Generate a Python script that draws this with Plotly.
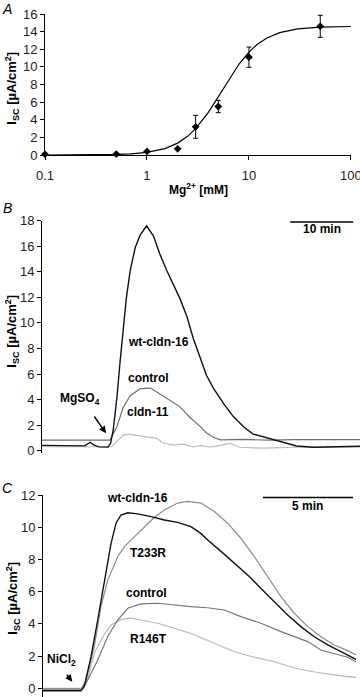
import plotly.graph_objects as go

W, H = 360, 697
FONT = "Liberation Sans, Arial, sans-serif"

# ---------------- Panel A data ----------------
mg_conc = [0.1, 0.5, 1, 2, 3, 5, 10, 50]
isc_mean = [0.08, 0.1, 0.4, 0.7, 3.2, 5.5, 11.1, 14.6]
isc_err = [0, 0, 0, 0, 1.3, 0.7, 1.15, 1.25]
fit_x = [0.1, 0.3, 0.5, 0.7, 1, 1.5, 2, 2.5, 3, 4, 5, 6, 7, 8, 10, 12, 15, 20, 30, 50, 100]
fit_y = [0.0, 0.02, 0.06, 0.13, 0.30, 0.73, 1.35, 2.12, 2.99, 4.84, 6.6, 8.11, 9.34,
         10.32, 11.68, 12.54, 13.28, 13.89, 14.31, 14.51, 14.58]
a_xticks = [0.1, 1, 10, 100]
a_xticklabels = ["0.1", "1", "10", "100"]

# ---------------- Panel B data (time in min) ----------------
b_wt_t = [0, 5, 6.8, 7.3, 7.7, 8.2, 9.0, 10.5, 10.9, 11.3, 11.9, 12.4, 12.9, 13.4, 14.0,
          14.8, 15.6, 16.6, 17.7, 18.7, 19.8, 20.8, 21.9, 23.0, 24.0, 25.1, 26.1, 27.2,
          28.8, 30.4, 32.0, 33.5, 35.7, 37.8, 40.4, 43.1, 46, 50.5]
b_wt_v = [0.42, 0.40, 0.38, 0.55, 0.65, 0.45, 0.30, 0.28, 0.6, 1.6, 4.2, 7.0, 9.7, 12.0,
          14.1, 15.9, 16.9, 17.6, 16.8, 15.4, 14.1, 13.0, 11.9, 10.5, 8.8, 7.3, 5.9, 4.9,
          3.7, 2.65, 1.87, 1.3, 1.0, 0.7, 0.37, 0.27, 0.3, 0.35]
b_ctrl_t = [0, 10.8, 11.9, 12.9, 14.0, 15.6, 17.2, 18.7, 20.3, 21.9, 23.5, 25.1, 26.1,
            27.2, 28.3, 32, 36, 40, 45, 50.5]
b_ctrl_v = [0.83, 0.83, 1.9, 3.4, 4.3, 4.86, 4.9, 4.47, 3.95, 3.43, 2.6, 1.9, 1.4,
            1.05, 0.85, 0.88, 0.82, 0.86, 0.84, 0.86]
b_c11_t = [0, 11.06, 12.1, 12.9, 13.7, 15.0, 16.6, 18.2, 19.3, 20.8, 22.4, 24.0, 25.1,
           26.5, 27.2, 29.8, 31.4, 35.1, 40.4, 45, 50.5]
b_c11_v = [0.31, 0.31, 0.83, 1.22, 1.3, 1.2, 1.09, 0.97, 0.58, 0.44, 0.52, 0.3, 0.4,
           0.3, 0.32, 0.58, 0.27, 0.2, 0.27, 0.3, 0.3]

# ---------------- Panel C data (time in min) ----------------
c_wt_t = [0, 2.11, 2.29, 2.67, 3.04, 3.41, 3.78, 4.06, 4.33, 4.71, 5.26, 6.0, 6.74, 7.48,
          8.22, 8.78, 9.15, 9.89, 10.63, 11.37, 12.11, 12.85, 13.59, 14.33, 15.07, 15.82,
          16.56, 17.39]
c_wt_v = [-0.15, -0.15, 0.1, 1.96, 4.24, 6.7, 9.0, 10.25, 10.76, 10.9, 10.83, 10.66,
          10.45, 10.3, 10.04, 9.6, 9.2, 8.5, 7.76, 7.04, 6.2, 5.38, 4.55, 3.83, 3.2, 2.69,
          2.27, 1.8]
c_t233r_t = [0, 2.11, 2.39, 2.85, 3.22, 3.59, 4.15, 4.52, 5.07, 5.63, 6.18, 6.74, 7.48,
             8.04, 8.78, 9.52, 10.26, 11.0, 11.74, 12.48, 13.22, 13.96, 14.71, 15.44,
             16.18, 16.93, 17.39]
c_t233r_v = [-0.05, -0.05, 0.5, 2.6, 5.07, 6.7, 8.17, 8.8, 9.4, 10.0, 10.6, 11.07, 11.5,
             11.6, 11.5, 10.97, 10.25, 9.3, 8.17, 6.93, 5.69, 4.66, 3.83, 3.2, 2.69, 2.34,
             2.07]
c_ctrl_t = [0, 2.11, 2.48, 3.04, 3.59, 4.15, 4.71, 5.44, 6.37, 7.29, 8.22, 9.15, 10.07,
            11.0, 12.11, 13.22, 13.96, 14.71, 15.44, 16.18, 16.93, 17.39]
c_ctrl_v = [-0.05, -0.05, 0.5, 1.76, 3.2, 4.24, 4.97, 5.24, 5.28, 5.17, 5.07, 5.0, 4.86,
            4.45, 4.04, 3.52, 3.2, 2.9, 2.38, 2.17, 1.93, 1.65]
c_r146t_t = [0, 2.11, 2.39, 2.85, 3.32, 3.78, 4.33, 4.89, 5.44, 6.37, 7.29, 8.22, 9.52,
             10.63, 11.74, 12.85, 13.96, 15.07, 16.18, 17.39]
c_r146t_v = [0.0, 0.0, 0.2, 2.17, 3.2, 3.93, 4.28, 4.35, 4.24, 4.04, 3.73, 3.4, 2.8, 2.27,
             1.93, 1.65, 1.26, 1.01, 0.83, 0.66]

# scale bars (minutes)
b_bar_len = 10
c_bar_len = 5


def px(x, y):
    return x / W, 1 - y / H


fig = go.Figure()

# Panel A
fig.add_trace(go.Scatter(x=fit_x, y=fit_y, mode="lines", line=dict(color="black", width=1.2),
                         xaxis="x", yaxis="y", hoverinfo="skip", cliponaxis=False))
fig.add_trace(go.Scatter(x=mg_conc, y=isc_mean, mode="markers",
                         marker=dict(symbol="diamond", size=6, color="black"),
                         error_y=dict(type="data", array=isc_err, thickness=1, width=2.5, color="black"),
                         xaxis="x", yaxis="y", cliponaxis=False))

# Panel B
fig.add_trace(go.Scatter(x=b_ctrl_t, y=b_ctrl_v, mode="lines", line=dict(color="#6f6f6f", width=1.2),
                         xaxis="x2", yaxis="y2"))
fig.add_trace(go.Scatter(x=b_c11_t, y=b_c11_v, mode="lines", line=dict(color="#bcbcbc", width=1.2),
                         xaxis="x2", yaxis="y2"))
fig.add_trace(go.Scatter(x=b_wt_t, y=b_wt_v, mode="lines", line=dict(color="#111111", width=1.4),
                         xaxis="x2", yaxis="y2"))

# Panel C
fig.add_trace(go.Scatter(x=c_r146t_t, y=c_r146t_v, mode="lines", line=dict(color="#b8b8b8", width=1.2),
                         xaxis="x3", yaxis="y3"))
fig.add_trace(go.Scatter(x=c_ctrl_t, y=c_ctrl_v, mode="lines", line=dict(color="#777777", width=1.2),
                         xaxis="x3", yaxis="y3"))
fig.add_trace(go.Scatter(x=c_t233r_t, y=c_t233r_v, mode="lines", line=dict(color="#8c8c8c", width=1.2),
                         xaxis="x3", yaxis="y3"))
fig.add_trace(go.Scatter(x=c_wt_t, y=c_wt_v, mode="lines", line=dict(color="#111111", width=1.4),
                         xaxis="x3", yaxis="y3"))

tickfont = dict(family=FONT, size=13, color="#222")
yax_common = dict(showline=True, linecolor="black", linewidth=1, ticks="outside", ticklen=4,
                  tickcolor="black", showgrid=False, zeroline=False, tickfont=tickfont, dtick=2)
xhidden = dict(showline=False, showticklabels=False, ticks="", showgrid=False, zeroline=False)

fig.update_layout(
    width=W, height=H, margin=dict(l=0, r=0, t=0, b=0, autoexpand=False),
    paper_bgcolor="white", plot_bgcolor="white", showlegend=False,
    font=dict(family=FONT, color="black"),
    xaxis=dict(domain=[45 / W, 351 / W], type="log", range=[-1, 2.0005], tickvals=a_xticks,
               ticktext=a_xticklabels, showline=True, linecolor="black", ticks="outside",
               ticklen=4, tickcolor="black", showgrid=False, zeroline=False, tickfont=tickfont,
               ticklabeloverflow="allow", ticklabelstandoff=4, anchor="y"),
    yaxis=dict(domain=[1 - 155 / H, 1 - 14 / H], range=[0, 16], anchor="x", **yax_common),
    xaxis2=dict(domain=[42 / W, 1], range=[0, (360 - 42) / 6.3], anchor="y2", **xhidden),
    yaxis2=dict(domain=[1 - 453 / H, 1 - 220.7 / H], range=[-0.18, 18], anchor="x2", **yax_common),
    xaxis3=dict(domain=[43 / W, 1], range=[0, (360 - 43) / 18], anchor="y3", **xhidden),
    yaxis3=dict(domain=[0, 1 - 495 / H], range=[-0.54, 12], anchor="x3", **yax_common),
)

# scale bars
fig.add_shape(type="line", xref="x2", yref="y2", x0=39.4, x1=39.4 + b_bar_len, y0=17.9, y1=17.9,
              line=dict(color="black", width=1.5))
fig.add_shape(type="line", xref="x3", yref="y3", x0=12.22, x1=12.22 + c_bar_len, y0=11.84, y1=11.84,
              line=dict(color="black", width=1.5))

annotations = []


def label(x, y, text, size=12, bold=True, italic=False, angle=0):
    px_x, px_y = px(x, y)
    t = text
    if bold:
        t = "<b>" + t + "</b>"
    if italic:
        t = "<i>" + t + "</i>"
    annotations.append(dict(x=px_x, y=px_y, xref="paper", yref="paper", text=t, showarrow=False,
                            xanchor="center", yanchor="middle", textangle=angle,
                            font=dict(family=FONT, size=size, color="black")))


ytitle = "I<sub>SC</sub> [µA/cm<sup>2</sup>]"
label(7, 9, "A", size=14, bold=False, italic=True)
label(7, 208, "B", size=14, bold=False, italic=True)
label(7, 488, "C", size=14, bold=False, italic=True)
label(11.7, 88, ytitle, size=13, angle=-90)
label(11.7, 331, ytitle, size=13, angle=-90)
label(12.7, 598, ytitle, size=13, angle=-90)
label(198, 189, "Mg<sup>2+</sup> [mM]", size=12)

label(158, 342, "wt-cldn-16")
label(148, 378, "control")
label(148, 412, "cldn-11")
label(80, 399, "MgSO<sub>4</sub>")
label(321.5, 229, "10 min")

label(137, 498, "wt-cldn-16")
label(148, 553, "T233R")
label(146, 593, "control")
label(148, 639, "R146T")
label(61, 660, "NiCl<sub>2</sub>")
label(307, 506, "5 min")

# arrows
for (hx, hy, tx, ty) in [(106, 433.3, 93.3, 415), (72.3, 681.7, 65.7, 673.3)]:
    ax_, ay_ = px(hx, hy)
    annotations.append(dict(x=ax_, y=ay_, xref="paper", yref="paper", text="", showarrow=True,
                            ax=tx - hx, ay=ty - hy, arrowhead=2, arrowsize=1, arrowwidth=1.4,
                            arrowcolor="black"))

fig.update_layout(annotations=annotations)
fig.write_html("out.html", config={"displayModeBar": False},
               post_script="document.body.style.margin='0px';document.body.style.overflow='hidden';")
